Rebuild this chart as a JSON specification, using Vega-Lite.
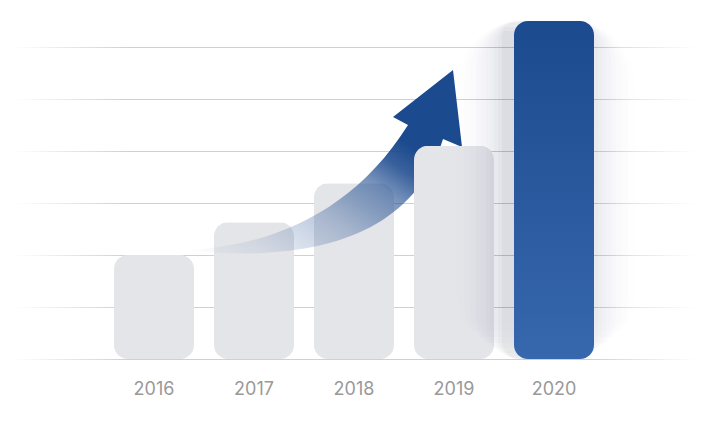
{
  "$schema": "https://vega.github.io/schema/vega-lite/v6.json",
  "width": 600,
  "height": 338,
  "autosize": {"type": "none"},
  "padding": {"left": 54, "top": 21, "right": 54, "bottom": 63},
  "background": "#ffffff",
  "config": {"view": {"stroke": null}},
  "datasets": {
    "bars": [
      {"year": "2016", "value": 2.0},
      {"year": "2017", "value": 2.63},
      {"year": "2018", "value": 3.38},
      {"year": "2019", "value": 4.1},
      {"year": "2020", "value": 6.5}
    ],
    "grid": [
      {"level": 0}, {"level": 1}, {"level": 2}, {"level": 3}, {"level": 4}, {"level": 5}, {"level": 6}
    ],
    "arrow": [{"year": "2018", "level": 4}]
  },
  "layer": [
    {
      "data": {"name": "grid"},
      "mark": {
        "type": "tick", "orient": "horizontal", "size": 684, "thickness": 1, "opacity": 1, "yOffset": 0.5,
        "fill": {"gradient": "linear", "x1": 0, "y1": 0, "x2": 1, "y2": 0,
          "stops": [
            {"offset": 0, "color": "rgba(208,208,208,0)"},
            {"offset": 0.17, "color": "rgba(208,208,208,1)"},
            {"offset": 0.84, "color": "rgba(208,208,208,1)"},
            {"offset": 1, "color": "rgba(208,208,208,0)"}
          ]}
      },
      "encoding": {
        "y": {"field": "level", "type": "quantitative", "scale": {"domain": [0, 6.5], "nice": false, "zero": true}, "axis": null}
      }
    },
    {
      "data": {"name": "bars"},
      "transform": [{"filter": "datum.year < '2019'"}],
      "mark": {"type": "bar", "cornerRadius": 14, "fill": "#e4e5e9", "opacity": 1},
      "encoding": {
        "x": {"field": "year", "type": "ordinal", "scale": {"domain": ["2016", "2017", "2018", "2019", "2020"], "paddingInner": 0.2, "paddingOuter": 0.6},
          "axis": {"title": null, "ticks": false, "domain": false, "grid": false, "labelAngle": 0, "labelFont": "Inter", "labelFontSize": 18, "labelColor": "#999999", "labelPadding": 21, "labelBaseline": "top"}},
        "y": {"field": "value", "type": "quantitative", "axis": null}
      }
    },
    {
      "data": {"name": "arrow"},
      "mark": {
        "type": "point", "filled": true, "size": 4, "opacity": 1, "strokeWidth": 0,
        "shape": "M -164 99 C -80 94 0 60 54 -26 L 39 -34 L 99 -81 L 108 -4 L 89 -12 C 60 80 -30 112 -164 100 Z",
        "fill": {"gradient": "linear", "x1": 0, "y1": 1, "x2": 1, "y2": 0,
          "stops": [
            {"offset": 0, "color": "rgba(28,74,142,0)"},
            {"offset": 0.16, "color": "rgba(28,74,142,0.1)"},
            {"offset": 0.35, "color": "rgba(28,74,142,0.3)"},
            {"offset": 0.53, "color": "rgba(28,74,142,0.6)"},
            {"offset": 0.62, "color": "rgba(28,74,142,0.88)"},
            {"offset": 0.7, "color": "rgba(28,74,142,1)"},
            {"offset": 1, "color": "rgba(28,74,142,1)"}
          ]}
      },
      "encoding": {
        "x": {"field": "year", "type": "ordinal"},
        "y": {"field": "level", "type": "quantitative"}
      }
    },
    {
      "data": {"name": "bars"},
      "transform": [{"filter": "datum.year === '2019'"}],
      "mark": {"type": "bar", "cornerRadius": 14, "fill": "#e4e5e9", "opacity": 1},
      "encoding": {"x": {"field": "year", "type": "ordinal"}, "y": {"field": "value", "type": "quantitative"}}
    },
    {"data": {"name": "bars"}, "transform": [{"filter": "datum.year === '2020'"}],
     "mark": {"type": "bar", "width": 88, "cornerRadius": 18, "xOffset": -8, "yOffset": 10, "y2Offset": 18, "color": "#1e2a44", "opacity": 0.03},
     "encoding": {"x": {"field": "year", "type": "ordinal"}, "y": {"field": "value", "type": "quantitative"}}},
    {"data": {"name": "bars"}, "transform": [{"filter": "datum.year === '2020'"}],
     "mark": {"type": "bar", "width": 96, "cornerRadius": 22, "xOffset": -8, "yOffset": 6, "y2Offset": 22, "color": "#1e2a44", "opacity": 0.026},
     "encoding": {"x": {"field": "year", "type": "ordinal"}, "y": {"field": "value", "type": "quantitative"}}},
    {"data": {"name": "bars"}, "transform": [{"filter": "datum.year === '2020'"}],
     "mark": {"type": "bar", "width": 104, "cornerRadius": 26, "xOffset": -8, "yOffset": 2, "y2Offset": 26, "color": "#1e2a44", "opacity": 0.021},
     "encoding": {"x": {"field": "year", "type": "ordinal"}, "y": {"field": "value", "type": "quantitative"}}},
    {"data": {"name": "bars"}, "transform": [{"filter": "datum.year === '2020'"}],
     "mark": {"type": "bar", "width": 112, "cornerRadius": 30, "xOffset": -8, "yOffset": -2, "y2Offset": 30, "color": "#1e2a44", "opacity": 0.017},
     "encoding": {"x": {"field": "year", "type": "ordinal"}, "y": {"field": "value", "type": "quantitative"}}},
    {"data": {"name": "bars"}, "transform": [{"filter": "datum.year === '2020'"}],
     "mark": {"type": "bar", "width": 120, "cornerRadius": 34, "xOffset": -8, "yOffset": -6, "y2Offset": 34, "color": "#1e2a44", "opacity": 0.014},
     "encoding": {"x": {"field": "year", "type": "ordinal"}, "y": {"field": "value", "type": "quantitative"}}},
    {"data": {"name": "bars"}, "transform": [{"filter": "datum.year === '2020'"}],
     "mark": {"type": "bar", "width": 130, "cornerRadius": 39, "xOffset": -8, "yOffset": -11, "y2Offset": 39, "color": "#1e2a44", "opacity": 0.012},
     "encoding": {"x": {"field": "year", "type": "ordinal"}, "y": {"field": "value", "type": "quantitative"}}},
    {"data": {"name": "bars"}, "transform": [{"filter": "datum.year === '2020'"}],
     "mark": {"type": "bar", "width": 140, "cornerRadius": 44, "xOffset": -8, "yOffset": -16, "y2Offset": 44, "color": "#1e2a44", "opacity": 0.01},
     "encoding": {"x": {"field": "year", "type": "ordinal"}, "y": {"field": "value", "type": "quantitative"}}},
    {"data": {"name": "bars"}, "transform": [{"filter": "datum.year === '2020'"}],
     "mark": {"type": "bar", "width": 152, "cornerRadius": 50, "xOffset": -8, "yOffset": -22, "y2Offset": 50, "color": "#1e2a44", "opacity": 0.008},
     "encoding": {"x": {"field": "year", "type": "ordinal"}, "y": {"field": "value", "type": "quantitative"}}},
    {"data": {"name": "bars"}, "transform": [{"filter": "datum.year === '2020'"}],
     "mark": {"type": "bar", "width": 164, "cornerRadius": 56, "xOffset": -8, "yOffset": -28, "y2Offset": 56, "color": "#1e2a44", "opacity": 0.006},
     "encoding": {"x": {"field": "year", "type": "ordinal"}, "y": {"field": "value", "type": "quantitative"}}},
    {"data": {"name": "bars"}, "transform": [{"filter": "datum.year === '2020'"}],
     "mark": {"type": "bar", "width": 178, "cornerRadius": 63, "xOffset": -8, "yOffset": -35, "y2Offset": 63, "color": "#1e2a44", "opacity": 0.004},
     "encoding": {"x": {"field": "year", "type": "ordinal"}, "y": {"field": "value", "type": "quantitative"}}},
    {
      "data": {"name": "bars"},
      "transform": [{"filter": "datum.year === '2020'"}],
      "mark": {"type": "bar", "cornerRadius": 14, "opacity": 1,
        "fill": {"gradient": "linear", "x1": 0, "y1": 0, "x2": 0, "y2": 1,
          "stops": [{"offset": 0, "color": "#1c4a8e"}, {"offset": 1, "color": "#3767ad"}]}},
      "encoding": {
        "x": {"field": "year", "type": "ordinal"},
        "y": {"field": "value", "type": "quantitative"}
      }
    }
  ]
}
